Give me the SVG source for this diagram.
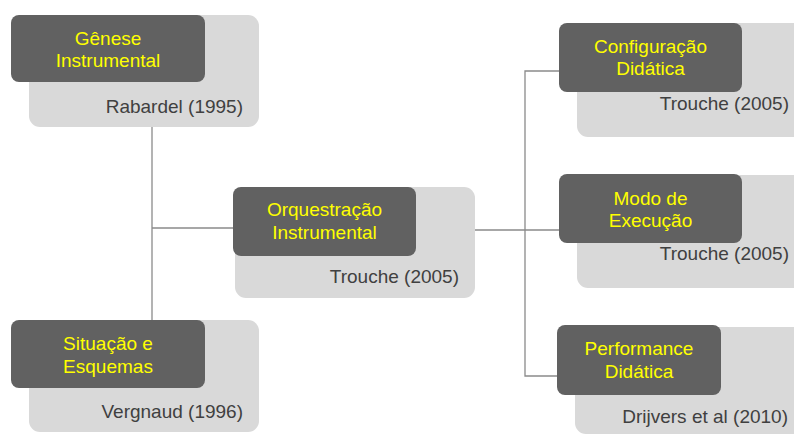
<svg xmlns="http://www.w3.org/2000/svg" width="794" height="434" viewBox="0 0 794 434">
<style>
.bg{fill:#d9d9d9}
.hd{fill:#616161}
.t{font-family:"Liberation Sans",Arial,sans-serif;font-size:19px}
.y{fill:#ffff00;text-anchor:middle}
.g{fill:#404040;text-anchor:end}
.c{fill:none;stroke:#8a8a8a;stroke-width:1.3}
</style>
<rect width="794" height="434" fill="#ffffff"/>
<g id="connectors">
<polyline class="c" points="152,127 152,320"/>
<polyline class="c" points="152,228 235,228"/>
<polyline class="c" points="475,230 559,230"/>
<polyline class="c" points="559,71 525,71 525,376 557,376"/>
</g>
<g id="genese">
<rect class="bg" x="29" y="15" width="230" height="112" rx="11"/>
<rect class="hd" x="11" y="15" width="194" height="67" rx="8"/>
<text class="t y" x="108" y="45">Gênese</text>
<text class="t y" x="108" y="67">Instrumental</text>
<text class="t g" x="243" y="113">Rabardel (1995)</text>
</g>
<g id="situacao">
<rect class="bg" x="29" y="320" width="230" height="112" rx="11"/>
<rect class="hd" x="11" y="320" width="194" height="68" rx="8"/>
<text class="t y" x="108" y="350">Situação e</text>
<text class="t y" x="108" y="373">Esquemas</text>
<text class="t g" x="243" y="418">Vergnaud (1996)</text>
</g>
<g id="orquestracao">
<rect class="bg" x="235" y="187" width="240" height="111" rx="11"/>
<rect class="hd" x="233" y="187" width="183" height="69" rx="8"/>
<text class="t y" x="324.5" y="216">Orquestração</text>
<text class="t y" x="324.5" y="239">Instrumental</text>
<text class="t g" x="459" y="283">Trouche (2005)</text>
</g>
<g id="configuracao">
<rect class="bg" x="577" y="23" width="240" height="114" rx="11"/>
<rect class="hd" x="559" y="23" width="183" height="69" rx="8"/>
<text class="t y" x="650.5" y="53">Configuração</text>
<text class="t y" x="650.5" y="75">Didática</text>
<text class="t g" x="789" y="110">Trouche (2005)</text>
</g>
<g id="modo">
<rect class="bg" x="577" y="175" width="240" height="113" rx="11"/>
<rect class="hd" x="559" y="174" width="183" height="69" rx="8"/>
<text class="t y" x="650.5" y="205">Modo de</text>
<text class="t y" x="650.5" y="227">Execução</text>
<text class="t g" x="789" y="260">Trouche (2005)</text>
</g>
<g id="performance">
<rect class="bg" x="575" y="327" width="240" height="107" rx="11"/>
<rect class="hd" x="557" y="325" width="164" height="70" rx="8"/>
<text class="t y" x="639" y="355">Performance</text>
<text class="t y" x="639" y="378">Didática</text>
<text class="t g" x="788" y="423">Drijvers et al (2010)</text>
</g>
</svg>
